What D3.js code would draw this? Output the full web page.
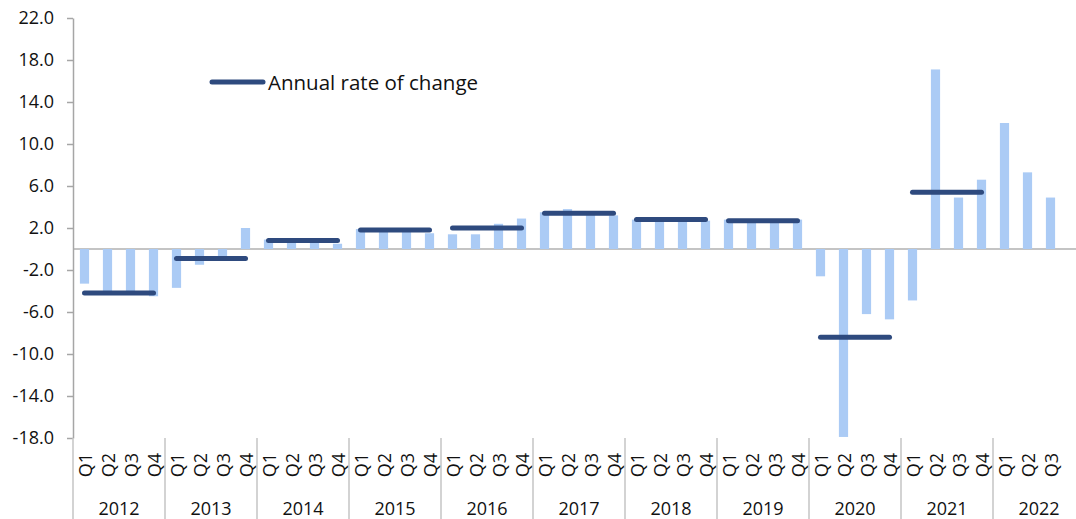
<!DOCTYPE html>
<html>
<head>
<meta charset="utf-8">
<script src="https://cdn.jsdelivr.net/npm/d3@7"></script>
<style>
  html, body { margin: 0; padding: 0; background: #fff; }
  svg { display: block; font-family: "Open Sans", sans-serif; }
</style>
</head>
<body>
<svg id="chart" width="1076" height="519"></svg>
<script>
// ---- Data ----
const years = ["2012","2013","2014","2015","2016","2017","2018","2019","2020","2021","2022"];
const quarterNames = ["Q1","Q2","Q3","Q4"];
const quarterlyValues = [
  -3.3, -4.1, -4.1, -4.5,   // 2012
  -3.7, -1.5, -0.7,  2.0,   // 2013
   0.9,  0.6,  0.6,  0.5,   // 2014
   1.9,  1.7,  1.7,  1.5,   // 2015
   1.4,  1.4,  2.4,  2.9,   // 2016
   3.5,  3.8,  3.4,  3.2,   // 2017
   2.8,  3.0,  2.8,  2.7,   // 2018
   2.8,  2.6,  2.6,  2.8,   // 2019
  -2.6, -17.9, -6.2, -6.7,  // 2020
  -4.9, 17.1,  4.9,  6.6,   // 2021
  12.0,  7.3,  4.9          // 2022
];
const annualYears = ["2012","2013","2014","2015","2016","2017","2018","2019","2020","2021"];
const annualValues = [-4.2, -0.9, 0.8, 1.8, 2.0, 3.4, 2.8, 2.7, -8.4, 5.4];
const yTicks = [-18, -14, -10, -6, -2, 2, 6, 10, 14, 18, 22];
const legendLabel = "Annual rate of change";

(function () {
// ---- Build category list (every quarter of every year) ----
const cats = [];
years.forEach(yr => quarterNames.forEach(q => cats.push({ key: yr + "-" + q, year: yr, q })));
const barData = quarterlyValues.map((v, i) => ({ ...cats[i], value: v }));

// ---- Layout ----
const svg = d3.select("#chart");
const pLeft = 73, pRight = 1085, pTop = 18, pBottom = 438;

const x = d3.scaleBand()
  .domain(cats.map(d => d.key))
  .range([pLeft, pRight])
  .paddingInner(0.6)
  .paddingOuter(0.3);
const step = x.step();

const y = d3.scaleLinear().domain([-18, 22]).range([pBottom, pTop]);

const barColor = "#abcbf5";
const lineColor = "#2e4a7e";
const axisColor = "#a6a6a6";

// zero line
svg.append("line")
  .attr("x1", pLeft).attr("x2", pRight)
  .attr("y1", y(0)).attr("y2", y(0))
  .attr("stroke", "#c4c4c4").attr("stroke-width", 2);

// bars
svg.append("g").selectAll("rect").data(barData).join("rect")
  .attr("x", d => x(d.key))
  .attr("width", x.bandwidth())
  .attr("y", d => y(Math.max(0, d.value)))
  .attr("height", d => Math.abs(y(d.value) - y(0)))
  .attr("fill", barColor);

// annual lines
svg.append("g").selectAll("line").data(annualYears.map((yr, i) => ({ yr, v: annualValues[i] }))).join("line")
  .attr("x1", d => x(d.yr + "-Q1") + x.bandwidth() / 2)
  .attr("x2", d => x(d.yr + "-Q4") + x.bandwidth() / 2)
  .attr("y1", d => y(d.v)).attr("y2", d => y(d.v))
  .attr("stroke", lineColor).attr("stroke-width", 5)
  .attr("stroke-linecap", "round");

// y axis
const fmt = d3.format(".1f");
const yAxis = d3.axisLeft(y)
  .tickValues(yTicks)
  .tickFormat(d => fmt(d).replace("\u2212", "-"))
  .tickSize(6)
  .tickPadding(13)
  .tickSizeOuter(0);
const gy = svg.append("g").attr("transform", `translate(${pLeft},0)`).call(yAxis);
gy.select(".domain").attr("stroke", axisColor).attr("stroke-width", 1.5);
gy.selectAll(".tick line").attr("stroke", axisColor).attr("stroke-width", 1.5);
gy.selectAll(".tick text").attr("font-size", 18).attr("fill", "#111")
  .attr("font-family", "Open Sans, sans-serif");

// year separators (category axis below)
const boundaries = years.map(yr => x(yr + "-Q1") - x.paddingInner() * step / 2);
boundaries.push(pRight);
svg.append("g").selectAll("line").data(boundaries).join("line")
  .attr("x1", d => d).attr("x2", d => d)
  .attr("y1", pBottom).attr("y2", 519)
  .attr("stroke", "#c4c4c4").attr("stroke-width", 1.5);

// quarter labels
svg.append("g").selectAll("text").data(barData).join("text")
  .attr("transform", d => `translate(${x(d.key) + x.bandwidth() / 2},465) rotate(-90)`)
  .attr("text-anchor", "middle")
  .attr("dominant-baseline", "central")
  .attr("font-size", 18)
  .attr("fill", "#111")
  .text(d => d.q);

// year labels
svg.append("g").selectAll("text").data(years).join("text")
  .attr("x", yr => x(yr + "-Q1") - x.paddingInner() * step / 2 + 2 * step)
  .attr("y", 508)
  .attr("text-anchor", "middle")
  .attr("dominant-baseline", "central")
  .attr("font-size", 18)
  .attr("fill", "#111")
  .text(d => d);

// legend
const lg = svg.append("g");
lg.append("line")
  .attr("x1", 212).attr("x2", 263).attr("y1", 82).attr("y2", 82)
  .attr("stroke", lineColor).attr("stroke-width", 5).attr("stroke-linecap", "round");
lg.append("text")
  .attr("x", 268).attr("y", 82)
  .attr("dominant-baseline", "central")
  .attr("font-size", 20.5)
  .attr("fill", "#111")
  .text(legendLabel);
})();
</script>
</body>
</html>
